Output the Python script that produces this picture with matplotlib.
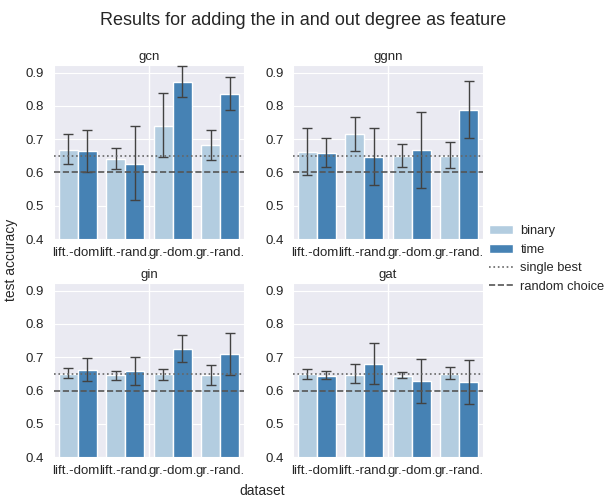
import matplotlib
matplotlib.use('Agg')
import matplotlib.pyplot as plt
import numpy as np
import seaborn as sns

datasets = ['lift.-dom.', 'lift.-rand.', 'gr.-dom.', 'gr.-rand.']
models = ['gcn', 'ggnn', 'gin', 'gat']

# mean, lower, upper per dataset for each model
binary_mean = {
    'gcn': [0.668, 0.641, 0.741, 0.681],
    'ggnn': [0.662, 0.715, 0.650, 0.650],
    'gin': [0.650, 0.646, 0.650, 0.646],
    'gat': [0.650, 0.648, 0.645, 0.650],
}
binary_lo = {
    'gcn': [0.625, 0.611, 0.647, 0.636],
    'ggnn': [0.592, 0.664, 0.617, 0.613],
    'gin': [0.638, 0.632, 0.633, 0.618],
    'gat': [0.635, 0.623, 0.638, 0.635],
}
binary_hi = {
    'gcn': [0.715, 0.672, 0.838, 0.726],
    'ggnn': [0.733, 0.768, 0.685, 0.690],
    'gin': [0.668, 0.660, 0.666, 0.677],
    'gat': [0.666, 0.679, 0.657, 0.670],
}
time_mean = {
    'gcn': [0.664, 0.626, 0.872, 0.836],
    'ggnn': [0.658, 0.646, 0.668, 0.788],
    'gin': [0.663, 0.660, 0.726, 0.710],
    'gat': [0.645, 0.680, 0.628, 0.625],
}
time_lo = {
    'gcn': [0.602, 0.517, 0.826, 0.787],
    'ggnn': [0.615, 0.562, 0.553, 0.703],
    'gin': [0.628, 0.618, 0.687, 0.648],
    'gat': [0.634, 0.620, 0.564, 0.560],
}
time_hi = {
    'gcn': [0.726, 0.741, 0.920, 0.886],
    'ggnn': [0.703, 0.732, 0.783, 0.875],
    'gin': [0.698, 0.702, 0.767, 0.773],
    'gat': [0.658, 0.743, 0.696, 0.691],
}
single_best = 0.65
random_choice = 0.6

sns.set_style('darkgrid')
plt.rcParams['font.family'] = ['Liberation Sans', 'DejaVu Sans']

light = '#b3cde0'
dark = '#4682b4'
errc = '#424242'

fig = plt.figure(figsize=(6.07, 4.98), dpi=100)
positions = [
    [0.089, 0.520, 0.313, 0.349],
    [0.483, 0.520, 0.313, 0.349],
    [0.089, 0.082, 0.313, 0.349],
    [0.483, 0.082, 0.313, 0.349],
]

x = np.arange(len(datasets))
w = 0.4
handles = {}
for model, pos in zip(models, positions):
    ax = fig.add_axes(pos)
    bm = np.array(binary_mean[model])
    tm = np.array(time_mean[model])
    ax.axvline(1.5, color='white', lw=1, zorder=0.8)
    hb = ax.bar(x - w / 2, bm, w, color=light, edgecolor='white', lw=1, zorder=2)
    ht = ax.bar(x + w / 2, tm, w, color=dark, edgecolor='white', lw=1, zorder=2)
    ax.errorbar(x - w / 2, bm, yerr=[bm - np.array(binary_lo[model]), np.array(binary_hi[model]) - bm],
                fmt='none', ecolor=errc, elinewidth=1, capsize=3.5, capthick=1, zorder=3)
    ax.errorbar(x + w / 2, tm, yerr=[tm - np.array(time_lo[model]), np.array(time_hi[model]) - tm],
                fmt='none', ecolor=errc, elinewidth=1, capsize=3.5, capthick=1, zorder=3)
    hs = ax.axhline(single_best, color='#666666', ls=':', lw=1.2, zorder=4)
    hr = ax.axhline(random_choice, color='#555555', ls='--', lw=1.2, zorder=4)
    ax.set_xlim(-0.5, 3.5)
    ax.set_ylim(0.4, 0.922)
    ax.set_yticks([0.4, 0.5, 0.6, 0.7, 0.8, 0.9])
    ax.set_xticks(x)
    ax.set_xticklabels(datasets, fontsize=9.5)
    ax.tick_params(axis='y', labelsize=9.5)
    ax.tick_params(axis='x', pad=2)
    ax.grid(axis='x', visible=False)
    ax.set_title(model, fontsize=9.5, pad=4)
    if model == 'gcn':
        handles = [hb, ht, hs, hr]

fig.legend(handles, ['binary', 'time', 'single best', 'random choice'], loc='center left',
           bbox_to_anchor=(0.786, 0.48), frameon=False, fontsize=9.3, handlelength=1.9,
           handletextpad=0.55, labelspacing=0.5)
fig.suptitle('Results for adding the in and out degree as feature', fontsize=13, y=0.975)
fig.text(0.018, 0.478, 'test accuracy', rotation=90, va='center', ha='center', fontsize=10)
fig.text(0.432, 0.0, 'dataset', ha='center', va='bottom', fontsize=10)

fig.savefig('out.png', dpi=100)
